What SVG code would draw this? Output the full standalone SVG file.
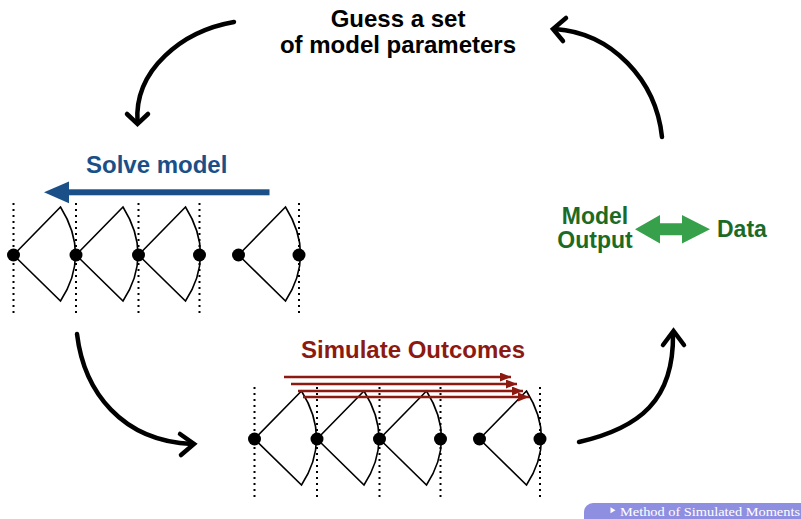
<svg xmlns="http://www.w3.org/2000/svg" width="801" height="519" viewBox="0 0 801 519">
  <style>
    .title { font-family: "Liberation Sans", Arial, sans-serif; font-weight: bold; font-size: 24px; }
    .green { font-family: "Liberation Sans", Arial, sans-serif; font-weight: bold; font-size: 23px; fill: #1c6b25; }
    .flow { fill: none; stroke: #000; stroke-width: 4.5; stroke-linecap: round; }
    .head { fill: none; stroke: #000; stroke-width: 4.5; stroke-linecap: round; stroke-linejoin: miter; }
    .fan { fill: none; stroke: #000; stroke-width: 1.6; }
    .dots { stroke: #000; stroke-width: 2; stroke-dasharray: 2 4; }
    .sim { stroke: #8c1a10; stroke-width: 2.6; }
  </style>
  <defs>
    <!-- one decision stage: node with a fan to the next stage -->
    <g id="fan">
      <path class="fan" d="M0,0 L47,-48 Q77,0 47,46 L0,0"/>
    </g>
    <!-- a row of stages with period boundaries -->
    <g id="tree">
      <line class="dots" x1="13.5" y1="203" x2="13.5" y2="315"/>
      <line class="dots" x1="76" y1="203" x2="76" y2="315"/>
      <line class="dots" x1="138.5" y1="203" x2="138.5" y2="315"/>
      <line class="dots" x1="199.5" y1="203" x2="199.5" y2="315"/>
      <line class="dots" x1="299" y1="203" x2="299" y2="315"/>
      <use href="#fan" x="13.5" y="255"/>
      <use href="#fan" x="76" y="255"/>
      <use href="#fan" x="138.5" y="255"/>
      <use href="#fan" x="238.5" y="255"/>
      <circle cx="13.5" cy="255" r="6.5"/>
      <circle cx="76" cy="255" r="6.5"/>
      <circle cx="138.5" cy="255" r="6.5"/>
      <circle cx="199.5" cy="255" r="6.5"/>
      <circle cx="238.5" cy="255" r="6.5"/>
      <circle cx="299" cy="255" r="6.5"/>
    </g>
    <marker id="redhead" markerUnits="userSpaceOnUse" markerWidth="12" markerHeight="10" refX="11" refY="4.5" orient="auto">
      <path d="M0,0 L11,4.5 L0,9 Z" fill="#8c1a10"/>
    </marker>
  </defs>

  <!-- step 1 -->
  <g id="guess">
    <text class="title" x="398" y="27" text-anchor="middle">Guess a set</text>
    <text class="title" x="398" y="53" text-anchor="middle">of model parameters</text>
  </g>

  <!-- step 2: backward solution -->
  <g id="solve">
    <text class="title" x="86" y="173" fill="#1b4f88">Solve model</text>
    <rect x="66" y="189.3" width="203.5" height="6" fill="#1b4f88"/>
    <polygon points="44,192.3 69,181.5 69,203.2" fill="#1b4f88"/>
    <use href="#tree"/>
  </g>

  <!-- step 3: forward simulation -->
  <g id="simulate">
    <text class="title" x="301" y="358" fill="#8c1a10">Simulate Outcomes</text>
    <use href="#tree" x="241" y="184"/>
    <line class="sim" x1="284" y1="377" x2="511" y2="377" marker-end="url(#redhead)"/>
    <line class="sim" x1="291" y1="384" x2="517" y2="384" marker-end="url(#redhead)"/>
    <line class="sim" x1="298" y1="391" x2="523" y2="391" marker-end="url(#redhead)"/>
    <line class="sim" x1="303" y1="397" x2="529" y2="397" marker-end="url(#redhead)"/>
  </g>

  <!-- step 4: comparison -->
  <g id="compare">
    <text class="green" x="595" y="224" text-anchor="middle">Model</text>
    <text class="green" x="595" y="248" text-anchor="middle">Output</text>
    <polygon points="635,229.3 660,215 660,223.3 682,223.3 682,215 710,229.3 682,243.5 682,235.3 660,235.3 660,243.5" fill="#36a04b"/>
    <text class="green" x="717" y="237">Data</text>
  </g>

  <!-- loop connectors -->
  <g id="connectors">
    <path class="flow" d="M234,22 C182,31 134,70 137.5,122"/>
    <path class="head" d="M127,114 L137.5,124 L148,114"/>
    <path class="flow" d="M77,334 C84,392 122,441 192,444"/>
    <path class="head" d="M180,434 L194,444 L181,455"/>
    <path class="flow" d="M579,442 C640,428 674,400 673,334"/>
    <path class="head" d="M663,345 L673.5,331 L684,345"/>
    <path class="flow" d="M662,137 C656,80 612,33 555,29"/>
    <path class="head" d="M566,18 L553,29 L563,41"/>
  </g>

  <!-- section badge -->
  <g id="badge">
    <rect x="584" y="503" width="240" height="30" rx="9" fill="#8f8fe2"/>
    <path d="M610.5,507.2 L615.5,510.2 L610.5,513.2 Z" fill="#ffffff"/>
    <text x="620" y="515.5" font-family="'Liberation Serif', 'Times New Roman', serif" font-size="13.5" fill="#ffffff" textLength="180" lengthAdjust="spacingAndGlyphs">Method of Simulated Moments</text>
  </g>
</svg>
